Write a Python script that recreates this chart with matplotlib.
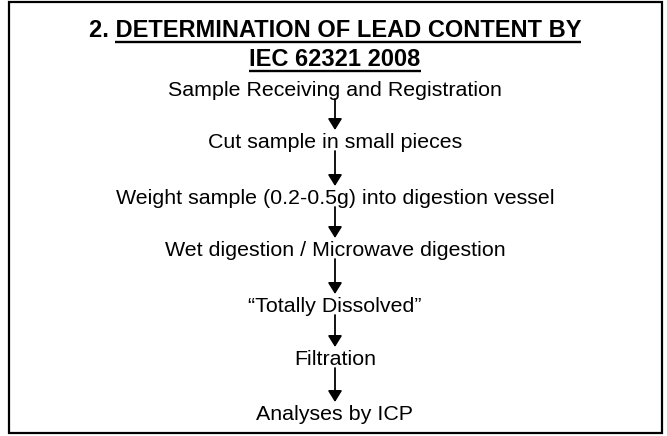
import matplotlib
matplotlib.use('Agg')
import matplotlib.pyplot as plt

title_prefix = '2. '
title_line1 = 'DETERMINATION OF LEAD CONTENT BY'
title_line2 = 'IEC 62321 2008'
steps = ['Sample Receiving and Registration',
         'Cut sample in small pieces',
         'Weight sample (0.2-0.5g) into digestion vessel',
         'Wet digestion / Microwave digestion',
         '\u201cTotally Dissolved\u201d',
         'Filtration',
         'Analyses by ICP']

plt.rcParams['font.family'] = ['Liberation Sans', 'DejaVu Sans']

fig = plt.figure(figsize=(6.67, 4.36), dpi=100)
ax = fig.add_axes([0, 0, 1, 1])
ax.set_xlim(0, 667)
ax.set_ylim(436, 0)
ax.axis('off')

# outer frame
ax.add_patch(plt.Rectangle((8.5, 2.5), 653, 430, fill=False, lw=1.6, ec='black'))

cx = 335
tfs = 17
bfs = 15.4
r = fig.canvas.get_renderer()

# title, "2. " is not underlined
t1 = ax.text(cx, 37, title_prefix + title_line1, ha='center', va='baseline',
             fontsize=tfs, fontweight='bold')
t2 = ax.text(cx, 66.5, title_line2, ha='center', va='baseline',
             fontsize=tfs, fontweight='bold')
tmp = ax.text(0, 0, title_prefix + 'D', fontsize=tfs, fontweight='bold')
tmpd = ax.text(0, 0, 'D', fontsize=tfs, fontweight='bold')
pre_w = tmp.get_window_extent(r).width - tmpd.get_window_extent(r).width
tmp.remove()
tmpd.remove()

inv = ax.transData.inverted()
b1 = t1.get_window_extent(r)
x0, _ = inv.transform((b1.x0 + pre_w, b1.y0))
x1, _ = inv.transform((b1.x1, b1.y0))
ax.plot([x0, x1], [42.5, 42.5], color='black', lw=1.7, solid_capstyle='butt')
b2 = t2.get_window_extent(r)
x0, _ = inv.transform((b2.x0, b2.y0))
x1, _ = inv.transform((b2.x1, b2.y0))
ax.plot([x0, x1], [71.5, 71.5], color='black', lw=1.7, solid_capstyle='butt')

# steps and arrows
step_y = [96, 148, 204, 256, 312, 365, 420]
for i, s in enumerate(steps):
    ax.text(cx, step_y[i], s, ha='center', va='baseline', fontsize=bfs)
    if i < len(steps) - 1:
        ax.annotate('', xy=(cx, step_y[i + 1] - 18), xytext=(cx, step_y[i] + 3),
                    arrowprops=dict(arrowstyle='-|>,head_length=0.45,head_width=0.28',
                                    color='black', lw=1.3,
                                    mutation_scale=15, shrinkA=0, shrinkB=0))

fig.savefig('out.png', dpi=100)
